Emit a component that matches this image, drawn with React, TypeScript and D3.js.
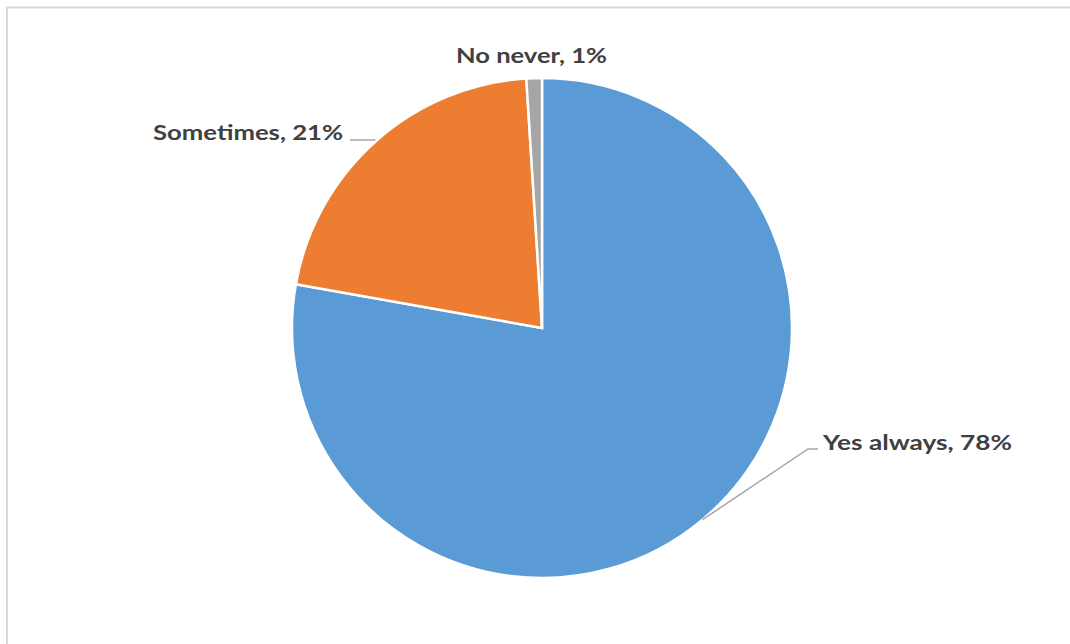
import React from "react";
import * as d3 from "d3";

const categories = ["Yes always", "Sometimes", "No never"];
const values = [77.8, 21.2, 1.0];
const percentLabels = ["78%", "21%", "1%"];
const colors = ["#5B9BD5", "#ED7D31", "#A5A5A5"];

const W = 1070;
const H = 644;
const cx = 542;
const cy = 328;
const R = 250;

export default function App() {
  const pie = d3.pie<number>().sort(null).value((d) => d)(values);
  const arc = d3.arc<d3.PieArcDatum<number>>().innerRadius(0).outerRadius(R);
  const edge = (d: d3.PieArcDatum<number>) => {
    const a = (d.startAngle + d.endAngle) / 2;
    return [cx + R * Math.sin(a), cy - R * Math.cos(a)];
  };
  const font = "Lato, sans-serif";
  const fs = 21;
  const fill = "#404040";

  const yesEdge = edge(pie[0]);
  const someEdge = edge(pie[1]);

  return (
    <svg
      width={W}
      height={H}
      style={{ position: "absolute", left: 0, top: 0 }}
    >
      <rect x={0} y={0} width={W} height={H} fill="#fff" />
      <rect x={7} y={7.5} width={W + 10} height={H + 10} fill="none" stroke="#d9d9d9" strokeWidth={2} />
      <g transform={`translate(${cx},${cy})`}>
        {pie.map((d, i) => (
          <path key={categories[i]} d={arc(d) || ""} fill={colors[i]} stroke="#fff" strokeWidth={2.5} strokeLinejoin="miter" />
        ))}
      </g>
      <polyline
        points={`${yesEdge[0]},${yesEdge[1]} 808,449 818,449`}
        fill="none"
        stroke="#A6A6A6"
        strokeWidth={1.5}
      />
      <polyline
        points={`350,140 ${someEdge[0]},140`}
        fill="none"
        stroke="#A6A6A6"
        strokeWidth={1.5}
      />
      <text x={823} y={449.5} fontFamily={font} fontSize={fs} fontWeight="bold" fill={fill} textLength={189} lengthAdjust="spacingAndGlyphs">
        {`${categories[0]}, ${percentLabels[0]}`}
      </text>
      <text x={343} y={139.5} textAnchor="end" fontFamily={font} fontSize={fs} fontWeight="bold" fill={fill} textLength={190} lengthAdjust="spacingAndGlyphs">
        {`${categories[1]}, ${percentLabels[1]}`}
      </text>
      <text x={456} y={62.5} fontFamily={font} fontSize={fs} fontWeight="bold" fill={fill} textLength={151} lengthAdjust="spacingAndGlyphs">
        {`${categories[2]}, ${percentLabels[2]}`}
      </text>
    </svg>
  );
}
